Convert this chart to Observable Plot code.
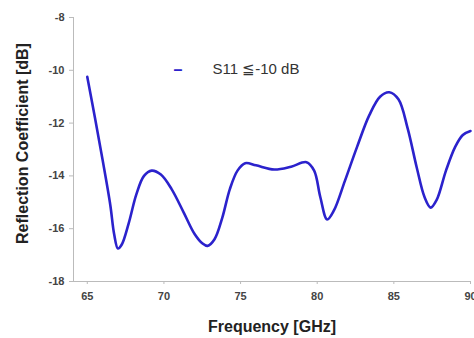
<!DOCTYPE html>
<html>
<head>
<meta charset="utf-8">
<script src="https://cdn.jsdelivr.net/npm/d3@7"></script>
<script src="https://cdn.jsdelivr.net/npm/@observablehq/plot@0.6"></script>
<style>
  html, body { margin: 0; padding: 0; background: #fff; }
</style>
</head>
<body>
<div id="chart"></div>
<script>
const freq = [65.0, 65.5, 66.0, 66.5, 66.75, 67.0, 67.25, 67.7, 68.2, 68.7, 69.2, 69.8, 70.5, 71.3, 72.0, 72.5, 72.85, 73.3, 73.8, 74.3, 74.8, 75.3, 76.0, 77.2, 78.3, 79.3, 79.8, 80.2, 80.65, 81.1, 81.8, 82.6, 83.4, 84.1, 84.7, 85.3, 85.9, 86.5, 87.0, 87.4, 87.8, 88.4, 89.0, 89.5, 90.0];
const s11  = [-10.25, -11.8, -13.4, -15.1, -16.2, -16.75, -16.6, -15.8, -14.7, -14.0, -13.8, -13.95, -14.5, -15.4, -16.2, -16.55, -16.65, -16.4, -15.6, -14.5, -13.8, -13.52, -13.6, -13.76, -13.65, -13.48, -13.8, -14.8, -15.65, -15.3, -14.2, -12.9, -11.7, -11.0, -10.83, -11.1, -12.2, -13.7, -14.8, -15.2, -14.9, -13.8, -12.9, -12.45, -12.3];
const xTicks = [65, 70, 75, 80, 85, 90];
const yTicks = [-8, -10, -12, -14, -16, -18];
const xDomain = [64.1, 90];
const yDomain = [-18, -8];
const xTitle = "Frequency [GHz]";
const yTitle = "Reflection Coefficient [dB]";
const legendLabel = "S11 \u2266-10 dB";

const data = freq.map((f, i) => ({f, s: s11[i]}));
const lineColor = "#2b22cc";

const chart = Plot.plot({
  width: 474,
  height: 338,
  marginLeft: 73,
  marginRight: 4,
  marginTop: 17,
  marginBottom: 57,
  style: {fontFamily: "'Liberation Sans', Arial, sans-serif", background: "#fff"},
  x: {domain: xDomain},
  y: {domain: yDomain},
  marks: [
    Plot.ruleX([xDomain[0]], {stroke: "#bbb", strokeWidth: 1}),
    Plot.ruleY([yDomain[0]], {stroke: "#bbb", strokeWidth: 1}),
    Plot.axisX({ticks: xTicks, tickSize: 3, tickPadding: 8, stroke: "#bbb", fill: "#444",
      fontSize: 11, fontWeight: "bold", label: null, tickFormat: d => String(d)}),
    Plot.axisY({ticks: yTicks, tickSize: 4, tickPadding: 5, stroke: "#bbb", fill: "#444",
      fontSize: 11, fontWeight: "bold", label: null, tickFormat: d => String(d)}),
    Plot.line(data, {x: "f", y: "s", curve: "catmull-rom", stroke: lineColor, strokeWidth: 2.6}),
    Plot.text([xTitle], {frameAnchor: "bottom", dy: 50, fontSize: 16, fontWeight: "bold", fill: "#222", letterSpacing: "0.6px", text: d => d}),
    Plot.text([yTitle], {frameAnchor: "left", textAnchor: "middle", rotate: -90, dx: -51, dy: -6, fontSize: 16, fontWeight: "bold", fill: "#222", letterSpacing: "0.5px", text: d => d}),
    Plot.text([legendLabel], {frameAnchor: "top-left", dx: 139, dy: 46, textAnchor: "start", fontSize: 15, fill: "#333", text: d => d}),
    Plot.text(["\u2013"], {frameAnchor: "top-left", dx: 100, dy: 46, textAnchor: "start", fontSize: 16, fontWeight: "bold", fill: lineColor, text: d => d})
  ]
});
document.getElementById("chart").appendChild(chart);
</script>
</body>
</html>
